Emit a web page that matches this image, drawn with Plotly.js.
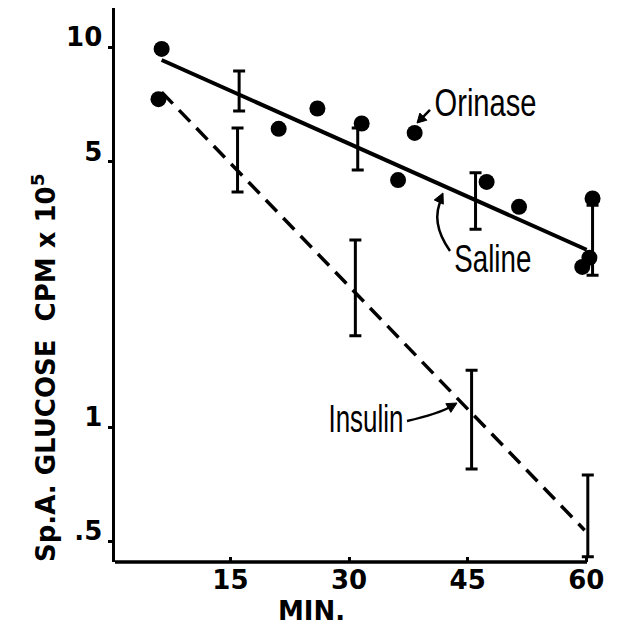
<!DOCTYPE html>
<html>
<head>
<meta charset="utf-8">
<script src="https://cdn.plot.ly/plotly-3.0.1.min.js"></script>
<style>html,body{margin:0;padding:0;background:#fff;}#chart{width:619px;height:628px;}</style>
</head>
<body>
<div id="chart"></div>
<script>
// Orinase individual points (min, CPM x 10^5)
const orinaseX = [6.3, 5.9, 21.1, 26.0, 31.6, 38.3, 36.2, 47.4, 51.5, 60.8, 59.5, 60.4];
const orinaseY = [9.9, 7.3, 6.1, 6.9, 6.3, 5.95, 4.47, 4.42, 3.8, 4.0, 2.64, 2.79];

// Saline fitted line and error bars
const salineLineX = [6.3, 60.05];
const salineLineY = [9.26, 2.93];
const salineBarX = [16.1, 31.1, 46.0, 60.8];
const salineBarTop = [8.66, 6.13, 4.67, 3.84];
const salineBarBottom = [6.80, 4.75, 3.32, 2.51];

// Insulin fitted line and error bars
const insulinLineX = [6.3, 59.8];
const insulinLineY = [7.62, 0.535];
const insulinBarX = [15.9, 30.8, 45.5, 60.2];
const insulinBarTop = [6.13, 3.11, 1.41, 0.747];
const insulinBarBottom = [4.16, 1.74, 0.775, 0.455];

// Axis ticks
const xTickVals = [15, 30, 45, 60];
const xTickText = ['15', '30', '45', '60'];
const yTickVals = [0.5, 1, 5, 10];
const yTickText = ['.5', '1', '5', '10'];

const boldFont = 'DejaVu Sans, Liberation Sans, sans-serif';
const labelFont = 'Liberation Sans Narrow, Liberation Sans, sans-serif';

// plot-area geometry (pixels) used only to place decorations in paper units
const M = {l: 115, r: 13, t: 8, b: 66};
const PW = 619 - M.l - M.r, PH = 628 - M.t - M.b;
const px = x => ((x - M.l) / PW).toFixed(4);
const py = y => ((628 - M.b - y) / PH).toFixed(4);

function bars(xs, tops, bottoms, name) {
  return {
    type: 'scatter', mode: 'markers', name: name,
    x: xs, y: tops,
    marker: {size: 0.1, color: 'rgba(0,0,0,0)'},
    error_y: {
      type: 'data', symmetric: false,
      array: tops.map(() => 0),
      arrayminus: tops.map((t, i) => t - bottoms[i]),
      color: '#000', thickness: 3, width: 6
    },
    hoverinfo: 'skip', showlegend: false
  };
}

const traces = [
  {type: 'scatter', mode: 'lines', name: 'Saline', x: salineLineX, y: salineLineY,
   line: {color: '#000', width: 4}, showlegend: false},
  {type: 'scatter', mode: 'lines', name: 'Insulin', x: insulinLineX, y: insulinLineY,
   line: {color: '#000', width: 3.5, dash: '16px,9px'}, showlegend: false},
  bars(salineBarX, salineBarTop, salineBarBottom, 'Saline SE'),
  bars(insulinBarX, insulinBarTop, insulinBarBottom, 'Insulin SE'),
  {type: 'scatter', mode: 'markers', name: 'Orinase', x: orinaseX, y: orinaseY,
   marker: {color: '#000', size: 16}, cliponaxis: false, showlegend: false}
];

// arrow decorations: shaft path (pixel coords) and a filled head
function curve(p0, c, p2) {
  return {type: 'path', xref: 'paper', yref: 'paper', layer: 'above',
    path: `M ${px(p0[0])} ${py(p0[1])} Q ${px(c[0])} ${py(c[1])} ${px(p2[0])} ${py(p2[1])}`,
    line: {color: '#000', width: 2.5}};
}
function head(tip, from, len, hw) {
  const dx = tip[0] - from[0], dy = tip[1] - from[1];
  const d = Math.hypot(dx, dy), ux = dx / d, uy = dy / d;
  const bx = tip[0] - ux * len, by = tip[1] - uy * len;
  const a = [bx - uy * hw, by + ux * hw], b = [bx + uy * hw, by - ux * hw];
  return {type: 'path', xref: 'paper', yref: 'paper', layer: 'above',
    path: `M ${px(tip[0])} ${py(tip[1])} L ${px(a[0])} ${py(a[1])} L ${px(b[0])} ${py(b[1])} Z`,
    fillcolor: '#000', line: {color: '#000', width: 1}};
}

const layout = {
  width: 619, height: 628,
  margin: M,
  paper_bgcolor: '#fff', plot_bgcolor: '#fff',
  showlegend: false,
  xaxis: {
    range: [0.4, 62.5], showgrid: false, zeroline: false, showline: false,
    tickvals: xTickVals, ticktext: xTickText,
    ticks: 'inside', ticklen: 5, tickwidth: 3, tickcolor: '#000',
    tickfont: {family: boldFont, size: 26, color: '#000', weight: 'bold'}
  },
  yaxis: {
    type: 'log', range: [-0.3555, 1.1035],
    showgrid: false, zeroline: false, showline: true, linewidth: 3.5, linecolor: '#000',
    tickvals: yTickVals, ticktext: yTickText,
    ticks: 'outside', ticklen: 4, tickwidth: 3, tickcolor: '#000',
    ticklabelshift: -10,
    tickfont: {family: boldFont, size: 26, color: '#000', weight: 'bold'}
  },
  shapes: [
    {type: 'line', xref: 'paper', yref: 'paper', x0: 0, x1: px(587), y0: 0, y1: 0,
     line: {color: '#000', width: 3.5}},
    curve([430, 110], [423.5, 116.5], [419, 121]),
    head([417, 123], [430, 110], 9, 5),
    curve([450, 251], [429.5, 222], [442, 198]),
    head([443, 193], [429.5, 222], 10, 5),
    curve([407, 421], [438, 414], [452, 406]),
    head([457, 403], [438, 414], 10, 5)
  ],
  annotations: [
    {xref: 'paper', yref: 'paper', x: px(44), y: py(368), xanchor: 'center', yanchor: 'middle',
     textangle: -90, showarrow: false,
     text: 'Sp.A. GLUCOSE  CPM x 10<sup>5</sup>',
     font: {family: boldFont, size: 26, color: '#000', weight: 'bold'}},
    {xref: 'paper', yref: 'paper', x: px(311), y: py(611), xanchor: 'center', yanchor: 'middle',
     showarrow: false,
     text: 'MIN.', font: {family: boldFont, size: 26, color: '#000', weight: 'bold'}},
    {xref: 'paper', yref: 'paper', x: px(486), y: py(103), xanchor: 'center', yanchor: 'middle',
     showarrow: false, text: 'Orinase', font: {family: labelFont, size: 38, color: '#000'}},
    {xref: 'paper', yref: 'paper', x: px(493), y: py(259), xanchor: 'center', yanchor: 'middle',
     showarrow: false, text: 'Saline', font: {family: labelFont, size: 38, color: '#000'}},
    {xref: 'paper', yref: 'paper', x: px(366), y: py(419), xanchor: 'center', yanchor: 'middle',
     showarrow: false, text: 'Insulin', font: {family: labelFont, size: 38, color: '#000'}}
  ]
};

Plotly.newPlot('chart', traces, layout, {displayModeBar: false, staticPlot: true}).then(gd => {
  // condense the hand-lettered labels horizontally (they are narrow in the original)
  const widths = {2: 102, 3: 77, 4: 75};
  document.querySelectorAll('g.annotation').forEach(g => {
    const idx = g.getAttribute('data-index');
    if (!(idx in widths)) return;
    const t = g.querySelector('text.annotation-text');
    if (!t) return;
    const bb = t.getBBox();
    const sx = widths[idx] / bb.width;
    const cx = bb.x + bb.width / 2;
    const prev = t.getAttribute('transform') || '';
    t.setAttribute('transform', `${prev} translate(${cx},0) scale(${sx},1) translate(${-cx},0)`);
  });
});
</script>
</body>
</html>
